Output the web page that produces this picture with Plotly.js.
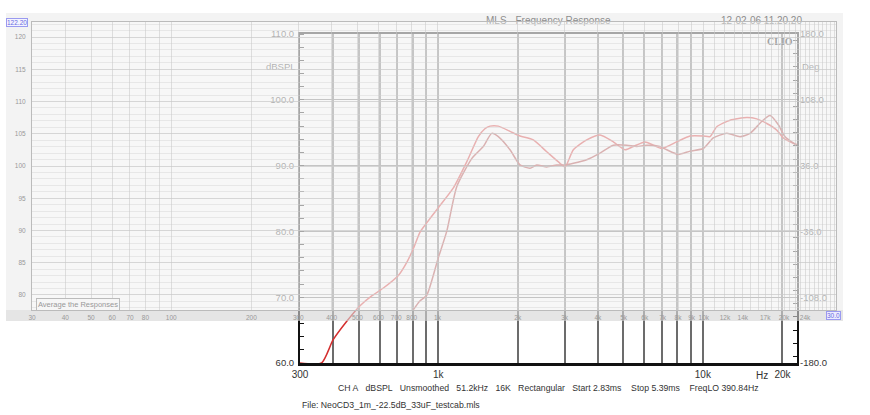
<!DOCTYPE html>
<html><head><meta charset="utf-8">
<script src="https://cdn.plot.ly/plotly-3.0.1.min.js"></script>
<style>
html,body{margin:0;padding:0;background:#fff;width:870px;height:415px;overflow:hidden;}
#clio{position:absolute;left:0;top:0;width:870px;height:415px;}
#panel{position:absolute;left:6px;top:13px;width:837px;height:308px;pointer-events:none;}
</style></head>
<body>
<div id="clio"></div>
<div id="panel"></div>
<script>
// ---- CLIO measurement curves (frequency Hz, level dBSPL) ----
const freqA = [300,362,400,450,506,560,620,706,760,805,853,904,1000,1140,1282,1417,1500,1568,1686,1867,2036,2286,2570,2885,3013,3240,3640,4087,4588,5080,5462,6046,6499,6992,7968,8947,10045,10645,11286,12673,14656,15990,17446,19030,20157,21984,22645];
const dbA   = [60,60,63.5,66.3,68.7,70.2,71.4,73.3,75.3,77.4,79.9,81.3,83.6,86.6,90.6,94.4,95.6,96.0,96.0,95.2,94.5,93.9,92.1,90.35,89.8,92.4,93.9,94.65,93.6,92.4,92.9,93.6,93.1,92.6,93.6,94.5,94.5,94.4,95.9,96.9,97.3,97.1,96.4,95.4,94.2,93.4,93.2];
const freqB = [805,850,904,1000,1076,1174,1340,1479,1592,1686,1867,2036,2221,2356,2570,2803,3013,3240,3640,4087,4588,5158,5625,6137,6888,7304,8079,8947,10045,10958,12315,13823,15084,16700,17952,19300,20455,22645];
const dbB   = [68.1,69.4,70.3,76.0,80.0,86.8,91.1,92.9,94.9,94.4,92.4,90.1,89.6,90.1,89.8,90.1,90.1,90.35,90.9,91.9,93.1,93.1,92.9,93.1,92.9,92.4,91.7,92.2,92.6,94.2,94.9,94.4,94.9,96.7,97.6,96.2,94.4,93.1];

// ---- CLIO axes ----
const clioXTicks = [300,400,500,600,700,800,900,1000,2000,3000,4000,5000,6000,7000,8000,9000,10000,20000];
const clioXText  = ['300','','','','','','','1k','','','','','','','','','10k','20k'];
const clioYTicks = [60,70,80,90,100,110];
const clioYText  = ['60.0','70.0','80.0','90.0','100.0','110.0'];
const clioY2Ticks = [-180,-108,-36,36,108,180];
const clioY2Text  = ['-180.0','-108.0','-36.0','36.0','108.0','180.0'];

// ---- faded overlay chart axes ----
const panelXTicks = [30,40,50,60,70,80,90,100,200,300,400,500,600,700,800,900,1000,2000,3000,4000,5000,6000,7000,8000,9000,10000,11000,12000,13000,14000,15000,16000,17000,18000,19000,20000,21000,22000,23000,24000,25000,26000,27000,28000,29000,30000,31000];
const panelXText  = ['30','40','50','60','70','80','','100','200','300','400','500','600','700','800','','1k','2k','3k','4k','5k','6k','7k','8k','9k','10k','','12k','','14k','','','17k','','','20k','','','','24k','','','','','','',''];
const panelYTicks = [80,85,90,95,100,105,110,115,120];
const panelYText  = ['80','85','90','95','100','105','110','115','120'];

const FONT = 'Liberation Sans, Arial, sans-serif';

const traces = [
  {x: freqA, y: dbA, type:'scatter', mode:'lines', line:{color:'#d42f2f', width:1.5, shape:'spline', smoothing:0.6}, hoverinfo:'skip', showlegend:false},
  {x: freqB, y: dbB, type:'scatter', mode:'lines', line:{color:'#a83232', width:1.5, shape:'spline', smoothing:0.6}, hoverinfo:'skip', showlegend:false},
  {x: [], y: [], type:'scatter', mode:'lines', yaxis:'y2', hoverinfo:'skip', showlegend:false}
];

const layout = {
  width:870, height:415,
  margin:{l:300, r:73, t:34, b:52, pad:0},
  paper_bgcolor:'#ffffff', plot_bgcolor:'#ffffff',
  font:{family:FONT, color:'#333', size:10},
  showlegend:false,
  xaxis:{type:'log', range:[Math.log10(300), Math.log10(22700)], tickmode:'array', tickvals:clioXTicks, ticktext:clioXText,
         showgrid:true, gridcolor:'#6c6c6c', gridwidth:2, ticks:'', showline:true, linecolor:'#111', linewidth:2.5, mirror:true,
         zeroline:false, tickfont:{size:10, color:'#333'}, fixedrange:true},
  yaxis:{range:[60,110], tickmode:'array', tickvals:clioYTicks, ticktext:clioYText, showgrid:true, gridcolor:'#6c6c6c', gridwidth:1,
         ticks:'', showline:true, linecolor:'#111', linewidth:2, mirror:true, zeroline:false, tickfont:{size:9.5, color:'#333'},
         ticklabelstandoff:2,
         minor:{dtick:2, ticks:'inside', ticklen:4, tickcolor:'#111', tickwidth:1, showgrid:false}, fixedrange:true},
  yaxis2:{range:[-180,180], overlaying:'y', side:'right', tickmode:'array', tickvals:clioY2Ticks, ticktext:clioY2Text, showgrid:false,
          ticks:'', zeroline:false, showline:false, tickfont:{size:9.5, color:'#333'}, ticklabelstandoff:2,
          minor:{dtick:14.4, ticks:'inside', ticklen:4, tickcolor:'#111', tickwidth:1, showgrid:false}, fixedrange:true},
  annotations:[
    {text:'MLS - Frequency Response', xref:'paper', yref:'paper', x:0.501, y:1.0425, xanchor:'center', yanchor:'middle', showarrow:false, font:{size:10, color:'#444'}},
    {text:'12-02-06 11.20.20', xref:'paper', yref:'paper', x:0.9276, y:1.0425, xanchor:'center', yanchor:'middle', showarrow:false, font:{size:10, color:'#444'}},
    {text:'<b>CLIO</b>', xref:'paper', yref:'paper', x:0.966, y:0.978, xanchor:'center', yanchor:'middle', showarrow:false, font:{size:10, color:'#000', family:'Liberation Serif, serif'}},
    {text:'dBSPL', xref:'paper', yref:'y', x:-0.004, y:105, xanchor:'right', yanchor:'middle', showarrow:false, font:{size:9.5, color:'#333'}},
    {text:'Deg', xref:'paper', yref:'y2', x:1.006, y:144, xanchor:'left', yanchor:'middle', showarrow:false, font:{size:9.5, color:'#333'}},
    {text:'Hz', xref:'paper', yref:'paper', x:0.9296, y:-0.0395, xanchor:'center', yanchor:'middle', showarrow:false, font:{size:10, color:'#333'}},
    {text:'CH A\u00a0\u00a0 dBSPL\u00a0\u00a0 Unsmoothed\u00a0\u00a0 51.2kHz\u00a0\u00a0 16K\u00a0\u00a0 Rectangular\u00a0\u00a0 Start 2.83ms\u00a0\u00a0\u00a0 Stop 5.39ms\u00a0\u00a0\u00a0 FreqLO 390.84Hz',
     xref:'paper', yref:'paper', x:0.0724, y:-0.076, xanchor:'left', yanchor:'middle', showarrow:false, font:{size:8.7, color:'#333'}},
    {text:'File: NeoCD3_1m_-22.5dB_33uF_testcab.mls', xref:'paper', yref:'paper', x:0.0, y:-0.128, xanchor:'left', yanchor:'middle', showarrow:false, font:{size:8.7, color:'#333'}}
  ]
};

Plotly.newPlot('clio', traces, layout, {staticPlot:true, displayModeBar:false});

// ---- semi-transparent overlay panel ----
const pw = 804, ph = 288;
const panelLayout = {
  width:837, height:308,
  margin:{l:26, r:7, t:9, b:11, pad:0},
  paper_bgcolor:'rgba(228,228,228,0.45)', plot_bgcolor:'rgba(255,255,255,0.38)',
  font:{family:FONT, color:'#999', size:6},
  showlegend:false,
  xaxis:{type:'log', range:[Math.log10(30), 4.4963], tickmode:'array', tickvals:panelXTicks, ticktext:panelXText,
         showgrid:true, gridcolor:'rgba(200,200,200,0.55)', gridwidth:1, ticks:'', showline:true, linecolor:'#bbb', linewidth:1, mirror:true,
         zeroline:false, tickfont:{size:6.5, color:'#999'}, ticklabelstandoff:1, fixedrange:true},
  yaxis:{range:[77.67,122.33], tickmode:'array', tickvals:panelYTicks, ticktext:panelYText, showgrid:true, gridcolor:'rgba(200,200,200,0.55)',
         ticks:'', showline:true, linecolor:'#bbb', linewidth:1, mirror:true, zeroline:false, tickfont:{size:6.5, color:'#999'},
         ticklabelstandoff:4,
         minor:{dtick:1, showgrid:true, gridcolor:'rgba(210,210,210,0.45)', ticks:''}, fixedrange:true},
  shapes:[
    {type:'rect', xref:'paper', yref:'paper', x0:-26/pw, x1:1+7/pw, y0:-11/ph, y1:0, fillcolor:'rgba(200,200,200,0.3)', line:{width:0}, layer:'below'}
  ],
  annotations:[
    {text:'122.20', xref:'paper', yref:'paper', x:-14.5/pw, y:1-1/ph, xanchor:'center', yanchor:'middle', showarrow:false, font:{size:6.5, color:'#6a6ae0'},
     bgcolor:'#f4f4ff', bordercolor:'#9a9af0', borderwidth:1, borderpad:0},
    {text:'30.0', xref:'paper', yref:'paper', x:1-3/pw, y:-5.5/ph, xanchor:'center', yanchor:'middle', showarrow:false, font:{size:6.5, color:'#6a6ae0'},
     bgcolor:'#ececff', bordercolor:'#9a9af0', borderwidth:1, borderpad:0},
    {text:'Average the Responses', xref:'paper', yref:'paper', x:46/pw, y:5.5/ph, xanchor:'center', yanchor:'middle', showarrow:false, font:{size:7.5, color:'#999'},
     bgcolor:'#f6f6f6', bordercolor:'#bbb', borderwidth:1, borderpad:1}
  ]
};
Plotly.newPlot('panel', [], panelLayout, {staticPlot:true, displayModeBar:false});
</script>
</body></html>
